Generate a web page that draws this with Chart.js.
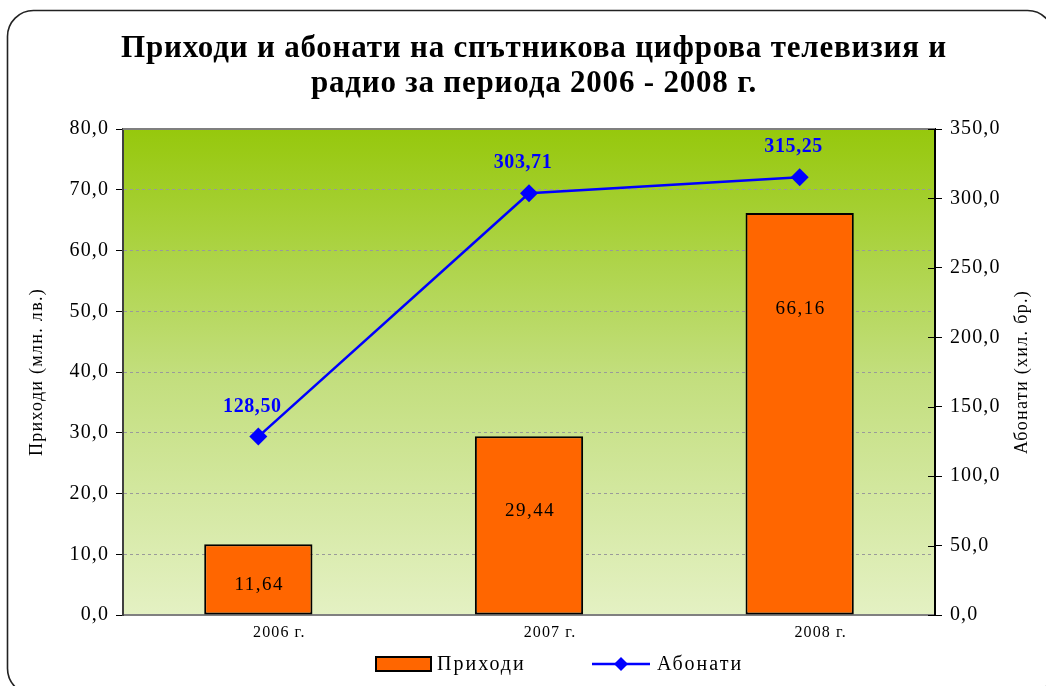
<!DOCTYPE html>
<html>
<head>
<meta charset="utf-8">
<title>Приходи и абонати</title>
<script src="https://cdn.jsdelivr.net/npm/chart.js@4.4.0/dist/chart.umd.min.js"></script>
<style>
  body { margin: 0; background: #fff; }
</style>
</head>
<body>
<canvas id="satChart" width="1046" height="686"></canvas>
<script>
// years, revenue (mln. lv.) and subscribers (thousands)
var years = ['2006 г.', '2007 г.', '2008 г.'];
var revenue = [11.64, 29.44, 66.16];
var subscribers = [128.50, 303.71, 315.25];
var titleLines = ['Приходи и абонати на спътникова цифрова телевизия и', 'радио за периода 2006 - 2008 г.'];
var leftAxisTitle = 'Приходи (млн. лв.)';
var rightAxisTitle = 'Абонати (хил. бр.)';

// where the value sits inside each bar (share of bar height, from the base)
var barLabelPos = [0.42, 0.58, 0.76];

var serif = '"Liberation Serif", "Times New Roman", serif';

function comma(v, d) {
  return v.toFixed(d).replace('.', ',');
}

// a bit of tracking for the axis text
var spacing = {
  id: 'spacing',
  beforeUpdate: function(chart) { chart.ctx.letterSpacing = '1.1px'; },
  beforeDraw: function(chart) { chart.ctx.letterSpacing = '1.1px'; }
};

// frame round the whole chart + title + gradient behind the plot
var backdrop = {
  id: 'backdrop',
  beforeDraw: function(chart) {
    var ctx = chart.ctx, a = chart.chartArea;
    ctx.save();
    ctx.fillStyle = '#fff';
    ctx.fillRect(0, 0, chart.width, chart.height);
    ctx.beginPath();
    ctx.roundRect(7.5, 10.5, 1046, 684, 26);
    ctx.lineWidth = 1.6;
    ctx.strokeStyle = '#222';
    ctx.stroke();

    ctx.fillStyle = '#000';
    ctx.textAlign = 'center';
    ctx.textBaseline = 'alphabetic';
    ctx.font = 'bold 31px ' + serif;
    ctx.letterSpacing = '0.8px';
    ctx.fillText(titleLines[0], 534, 57);
    ctx.fillText(titleLines[1], 534, 92);

    var g = ctx.createLinearGradient(0, a.top, 0, a.bottom);
    g.addColorStop(0, '#96c80c');
    g.addColorStop(0.5, '#c2de7c');
    g.addColorStop(1, '#e4f1c3');
    ctx.fillStyle = g;
    ctx.fillRect(a.left, a.top, a.right - a.left, a.bottom - a.top);
    ctx.restore();
  },
  beforeDatasetsDraw: function(chart) {
    var ctx = chart.ctx, a = chart.chartArea;
    ctx.save();
    ctx.strokeStyle = '#7f7f7f';
    ctx.lineWidth = 2;
    ctx.beginPath();
    ctx.moveTo(a.left, a.top);
    ctx.lineTo(a.right, a.top);
    ctx.stroke();
    // right axis ticks also reach into the plot
    var ys = chart.scales.y1;
    ctx.strokeStyle = '#000';
    ctx.lineWidth = 1;
    ys.ticks.forEach(function(t) {
      var y = Math.round(ys.getPixelForValue(t.value)) + 0.5;
      ctx.beginPath();
      ctx.moveTo(a.right - 7, y);
      ctx.lineTo(a.right, y);
      ctx.stroke();
    });
    ctx.restore();
  }
};

// value labels, axis titles and the legend
var annotate = {
  id: 'annotate',
  afterDatasetsDraw: function(chart) {
    var ctx = chart.ctx, a = chart.chartArea;
    ctx.save();
    ctx.textAlign = 'center';
    ctx.textBaseline = 'middle';

    var bars = chart.getDatasetMeta(0).data;
    ctx.font = '19px ' + serif;
    ctx.letterSpacing = '1.5px';
    ctx.fillStyle = '#000';
    bars.forEach(function(b, i) {
      var y = b.base - (b.base - b.y) * barLabelPos[i];
      ctx.fillText(comma(revenue[i], 2), b.x + 1, y);
    });

    var pts = chart.getDatasetMeta(1).data;
    ctx.font = 'bold 20px ' + serif;
    ctx.letterSpacing = '0.6px';
    ctx.fillStyle = '#0000ff';
    pts.forEach(function(p, i) {
      ctx.fillText(comma(subscribers[i], 2), p.x - 6, p.y - 30);
    });

    // axis titles, both read bottom to top
    var midY = (a.top + a.bottom) / 2;
    ctx.font = '18px ' + serif;
    ctx.letterSpacing = '1.3px';
    ctx.fillStyle = '#000';
    ctx.save();
    ctx.translate(37, midY);
    ctx.rotate(-Math.PI / 2);
    ctx.fillText(leftAxisTitle, 0, 0);
    ctx.restore();
    ctx.save();
    ctx.translate(1022, midY);
    ctx.rotate(-Math.PI / 2);
    ctx.fillText(rightAxisTitle, 0, 0);
    ctx.restore();

    // legend
    var ly = 664;
    var d0 = chart.data.datasets[0], d1 = chart.data.datasets[1];
    ctx.font = '20px ' + serif;
    ctx.letterSpacing = '2px';
    ctx.textAlign = 'left';
    ctx.fillStyle = d0.backgroundColor;
    ctx.fillRect(376, ly - 7, 55, 14);
    ctx.lineWidth = 2;
    ctx.strokeStyle = '#000';
    ctx.strokeRect(376, ly - 7, 55, 14);
    ctx.fillStyle = '#000';
    ctx.fillText(d0.label, 437, ly + 1);

    ctx.strokeStyle = d1.borderColor;
    ctx.lineWidth = 2.5;
    ctx.beginPath();
    ctx.moveTo(592, ly);
    ctx.lineTo(650, ly);
    ctx.stroke();
    ctx.fillStyle = d1.borderColor;
    ctx.beginPath();
    ctx.moveTo(621, ly - 7);
    ctx.lineTo(628, ly);
    ctx.lineTo(621, ly + 7);
    ctx.lineTo(614, ly);
    ctx.closePath();
    ctx.fill();
    ctx.fillStyle = '#000';
    ctx.fillText(d1.label, 657, ly + 1);
    ctx.restore();
  }
};

var chart = new Chart('satChart', {
  type: 'bar',
  data: {
    labels: years,
    datasets: [{
      label: 'Приходи',
      data: revenue,
      yAxisID: 'y',
      backgroundColor: '#ff6600',
      borderColor: '#000',
      borderWidth: 2,
      borderSkipped: false,
      barPercentage: 0.4,
      categoryPercentage: 1,
      order: 2
    }, {
      type: 'line',
      label: 'Абонати',
      data: subscribers,
      yAxisID: 'y1',
      borderColor: '#0000ff',
      backgroundColor: '#0000ff',
      borderWidth: 2.5,
      pointStyle: 'rectRot',
      pointRadius: 9,
      pointHoverRadius: 9,
      pointBorderWidth: 0,
      tension: 0,
      fill: false,
      order: 1
    }]
  },
  options: {
    responsive: false,
    animation: false,
    layout: { padding: { top: 129, left: 0, right: 0, bottom: 0 } },
    plugins: {
      legend: { display: false },
      tooltip: { enabled: false },
      title: { display: false }
    },
    scales: {
      x: {
        grid: { display: false, drawTicks: false },
        border: { color: '#808080', width: 2 },
        ticks: { color: '#000', font: { family: serif, size: 16 }, padding: 8, labelOffset: 21 },
        afterFit: function(s) { s.height = 71; }
      },
      y: {
        position: 'left',
        min: 0, max: 80,
        ticks: {
          stepSize: 10, color: '#000', padding: 7,
          font: { family: serif, size: 20 },
          callback: function(v) { return comma(v, 1); }
        },
        grid: {
          color: '#9a9a9a', lineWidth: 1,
          tickLength: 7, tickColor: '#000', tickBorderDash: [], tickWidth: 1
        },
        border: { color: '#404040', width: 2, dash: [3, 3] },
        afterFit: function(s) { s.width = 123; }
      },
      y1: {
        position: 'right',
        min: 0, max: 350,
        ticks: {
          stepSize: 50, color: '#000', padding: 8,
          font: { family: serif, size: 20 },
          callback: function(v) { return comma(v, 1); }
        },
        grid: { drawOnChartArea: false, tickLength: 7, tickColor: '#000' },
        border: { color: '#000', width: 2 },
        afterFit: function(s) { s.width = 111; }
      }
    }
  },
  plugins: [spacing, backdrop, annotate]
});
</script>
</body>
</html>
